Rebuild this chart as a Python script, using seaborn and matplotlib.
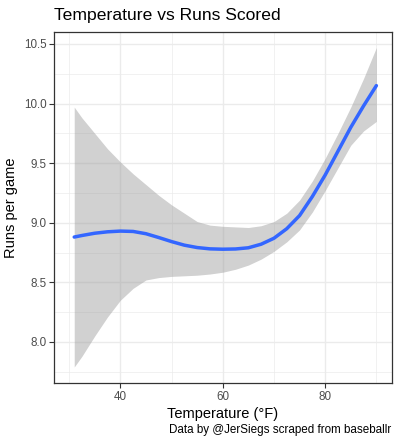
import numpy as np
import pandas as pd
import matplotlib
matplotlib.use("Agg")
import matplotlib.pyplot as plt
import seaborn as sns
from matplotlib.ticker import MultipleLocator

temperature = [31, 32.5, 35, 37.5, 40, 42.5, 45, 47.5, 50, 52.5, 55, 57.5, 60,
               62.5, 65, 67.5, 70, 72.5, 75, 77.5, 80, 82.5, 85, 87.5, 90]
runs_fit = [8.88, 8.893, 8.912, 8.924, 8.93, 8.927, 8.908, 8.876, 8.842, 8.812, 8.792,
            8.781, 8.778, 8.78, 8.79, 8.82, 8.87, 8.95, 9.06, 9.22, 9.40, 9.60,
            9.80, 9.98, 10.15]
runs_upper = [9.97, 9.88, 9.75, 9.62, 9.51, 9.41, 9.32, 9.23, 9.15, 9.08, 9.01,
              8.98, 8.97, 8.965, 8.96, 8.975, 9.01, 9.08, 9.19, 9.35, 9.54, 9.75,
              9.97, 10.21, 10.47]
runs_lower = [7.79, 7.88, 8.05, 8.21, 8.35, 8.45, 8.52, 8.54, 8.55, 8.555, 8.56,
              8.57, 8.585, 8.61, 8.645, 8.695, 8.76, 8.84, 8.94, 9.09, 9.27, 9.46,
              9.65, 9.77, 9.85]
x_ticks = [40, 60, 80]
y_ticks = [8.0, 8.5, 9.0, 9.5, 10.0, 10.5]

df = pd.DataFrame({"temp": temperature, "fit": runs_fit,
                   "lo": runs_lower, "hi": runs_upper})

sns.set_theme(style="white")
plt.rcParams["font.family"] = ["Liberation Sans", "DejaVu Sans"]

fig = plt.figure(figsize=(4.0, 4.44), dpi=100)
ax = fig.add_axes([0.135, 0.1374, 0.845, 0.7906])

ax.fill_between(df["temp"], df["lo"], df["hi"], color="#999999", alpha=0.45,
                linewidth=0, zorder=2)
sns.lineplot(data=df, x="temp", y="fit", ax=ax, color="#3366FF", linewidth=2.5,
             zorder=3)

ax.set_xlim(27.05, 93.05)
ax.set_ylim(7.656, 10.6)
ax.set_xticks(x_ticks)
ax.set_yticks(y_ticks)
ax.set_yticklabels([f"{v:.1f}" for v in y_ticks])
ax.set_xticks([30, 50, 70, 90], minor=True)
ax.set_yticks([7.75, 8.25, 8.75, 9.25, 9.75, 10.25], minor=True)

ax.grid(which="major", color="#EBEBEB", linewidth=1.0, zorder=0)
ax.grid(which="minor", color="#EBEBEB", linewidth=0.5, zorder=0)
ax.set_axisbelow(True)
for s in ax.spines.values():
    s.set_color("#333333")
    s.set_linewidth(0.9)

ax.tick_params(which="major", length=3.5, width=0.8, color="#333333",
               labelsize=8.4, labelcolor="#4D4D4D", pad=2, left=True, bottom=True)
ax.tick_params(which="minor", length=0)

ax.set_xlabel("Temperature (°F)", fontsize=10.5, color="black", labelpad=3)
ax.set_ylabel("Runs per game", fontsize=10.5, color="black", labelpad=4)
fig.text(0.135, 0.966, "Temperature vs Runs Scored", fontsize=12.6, ha="left",
         va="center", color="black")
fig.text(0.977, 0.031, "Data by @JerSiegs scraped from baseballr", fontsize=8.4,
         ha="right", va="center", color="black")

fig.savefig("out.png", dpi=100)
